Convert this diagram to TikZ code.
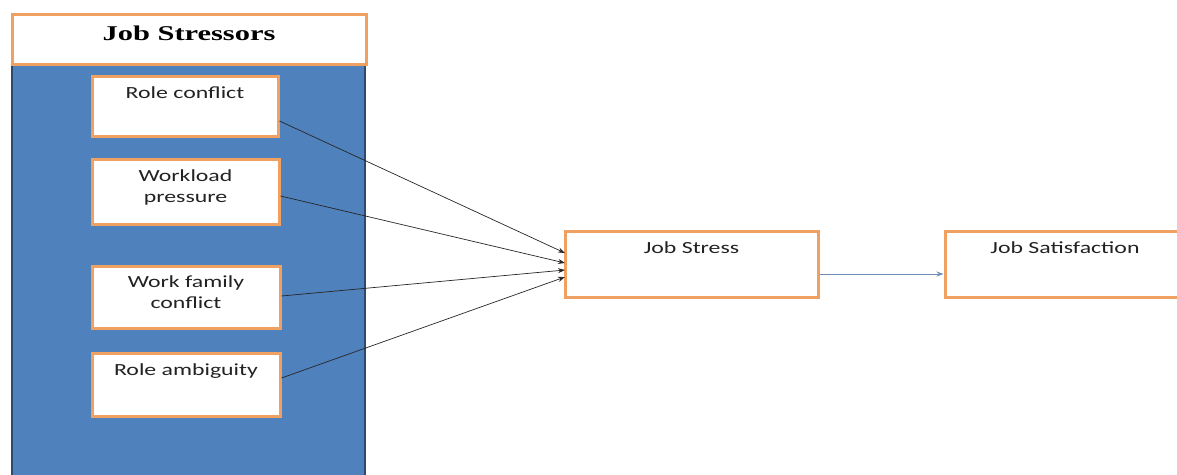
\documentclass[tikz,border=0pt]{standalone}
\usepackage{fontspec}
\setmainfont{Carlito}[FakeStretch=1.4]
\newfontfamily\hdrfont{Liberation Serif}[FakeStretch=1.45]
\usetikzlibrary{arrows.meta}
\definecolor{obox}{HTML}{F0A060}
\definecolor{panelblue}{HTML}{4F81BD}
\definecolor{paneledge}{HTML}{2C4A70}
\definecolor{txt}{HTML}{222222}
\definecolor{linkblue}{HTML}{6E8FB5}
\tikzset{
  x=1pt, y=-1pt,
  obox/.style={draw=obox, line width=3pt, fill=white, inner sep=0pt},
  lbl/.style={font=\fontsize{17}{21}\selectfont, text=txt, align=center, inner sep=0pt, anchor=base},
  link/.style={draw=black!85, line width=0.7pt, -{Stealth[length=7pt,width=5pt]}},
}
\begin{document}
\begin{tikzpicture}
\useasboundingbox (0,0) rectangle (1177,474);
% panel
\fill[panelblue] (12,64) rectangle (366,480);
\draw[paneledge, line width=2pt] (12,480) -- (12,64) (365,64) -- (365,480);
% header
\node[obox, minimum width=354pt, minimum height=50pt] (hdr) at (189,39.5) {};
\node[font=\hdrfont\bfseries\fontsize{21}{24}\selectfont, text=black, inner sep=0pt, anchor=base] (hdrt) at (189,40.5) {Job Stressors};
% stressor boxes
\node[obox, minimum width=186pt, minimum height=60pt] (rc) at (185,106) {};
\node[lbl] (rct) at (185,98) {Role conflict};
\node[obox, minimum width=187pt, minimum height=65pt] (wp) at (185.5,191.5) {};
\node[lbl] (wpt) at (185.5,202.5) {Workload\\pressure};
\node[obox, minimum width=188pt, minimum height=62pt] (wf) at (186,297) {};
\node[lbl] (wft) at (186,308) {Work family\\conflict};
\node[obox, minimum width=188pt, minimum height=63pt] (ra) at (186,384.5) {};
\node[lbl] (rat) at (186,375) {Role ambiguity};
% outcome boxes
\node[obox, minimum width=253pt, minimum height=66pt] (js) at (691.5,264) {};
\node[lbl] (jst) at (691.5,253) {Job Stress};
\node[obox, minimum width=240pt, minimum height=66pt] (sat) at (1065,264) {};
\node[lbl] (satt) at (1065,253) {Job Satisfaction};
% arrows
\coordinate (t1) at (565,253);
\coordinate (t2) at (565,263);
\coordinate (t3) at (565,270);
\coordinate (t4) at (565,277);
\draw[link] (rc.east |- 0,121) -- (t1);
\draw[link] (wp.east |- 0,196) -- (t2);
\draw[link] (wf.east |- 0,296) -- (t3);
\draw[link] (ra.east |- 0,378) -- (t4);
\draw[draw=linkblue, line width=0.8pt, -{Stealth[length=7pt,width=5pt]}] (js.east |- 0,274) -- (sat.west |- 0,274);
\end{tikzpicture}
\end{document}
